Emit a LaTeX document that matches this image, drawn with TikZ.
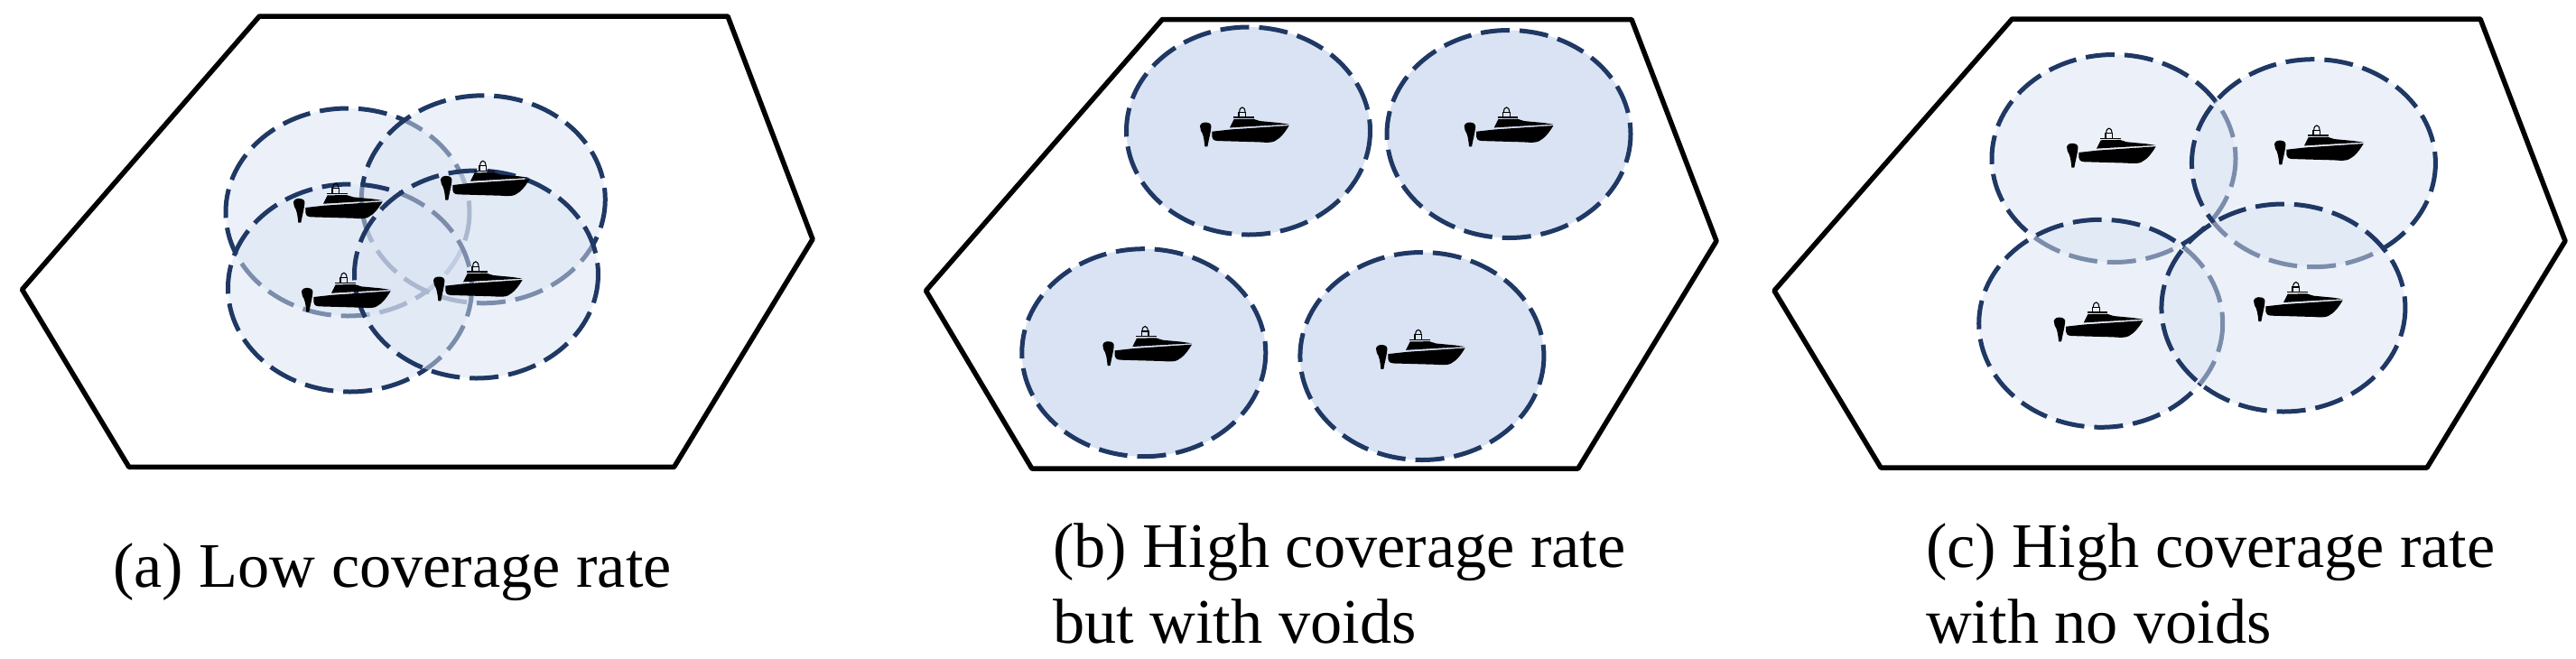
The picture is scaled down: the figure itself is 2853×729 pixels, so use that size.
\documentclass[tikz,border=0pt]{standalone}
\usepackage{fontspec}
\setmainfont{Liberation Serif}
\definecolor{cellfill}{HTML}{D9E3F3}
\definecolor{cellline}{HTML}{1F3864}
\tikzset{
  hexcell/.style={draw=black,line width=5.5pt,line join=round},
  zone/.style={draw=cellline,line width=5pt,dash pattern=on 32pt off 11pt,fill=cellfill,fill opacity=0.5,draw opacity=1},
  solidzone/.style={zone,fill opacity=1},
  caption/.style={anchor=base west,inner sep=0pt,font=\fontsize{70.3}{85}\selectfont},
  pics/boat/.style={code={
    \begin{scope}[x=0.3333pt,y=-0.3333pt,shift={(-147,-218)}]
      \fill[black] (147,150) .. controls (148,140) and (160,136) .. (170,138) .. controls (180,139) and (186,145) .. (184,155) .. controls (182,175) and (176,195) .. (172,218) -- (163,218) .. controls (161,195) and (158,175) .. (150,165) .. controls (148,160) and (147,155) .. (147,150) -- cycle;
      \fill[black] (187,168) -- (250,161) -- (443,148) .. controls (430,170) and (415,190) .. (395,200) .. controls (385,205) and (370,205) .. (345,203) -- (205,199) .. controls (192,198) and (187,192) .. (187,185) -- cycle;
      \fill[black] (246,155) -- (260,127) -- (324,126) -- (346,133) -- (410,139) -- (443,144) -- (350,149) -- cycle;
      \draw[black,line width=1.4pt] (258,121) -- (326,121);
      \draw[black,line width=1.1pt] (276,120) -- (276,104) -- (299,104) -- (299,120);
      \draw[black,line width=1.1pt] (278,104) .. controls (278,82) and (297,82) .. (297,104);
    \end{scope}
  }}
}
\begin{document}
\begin{tikzpicture}[x=1pt,y=-1pt]
\useasboundingbox (0,0) rectangle (2853,729);
% (a)
\draw[hexcell] (287.3,18) -- (806,18) -- (900,265) -- (746.6,517.3) -- (142.8,517.3) -- (24.5,320.7) -- cycle;
\draw[zone] (385,235) ellipse [x radius=135,y radius=115];
\draw[zone] (535.3,220.8) ellipse [x radius=135,y radius=115];
\draw[zone] (387.5,319) ellipse [x radius=135,y radius=115];
\draw[zone] (527.5,304) ellipse [x radius=135,y radius=115];
\pic at (325,246.7) {boat};
\pic at (488,221.7) {boat};
\pic at (334,345.7) {boat};
\pic at (480,333.3) {boat};
\node[caption] (capa) at (125,650) {(a) Low coverage rate};
% (b)
\draw[hexcell] (1287.3,21.5) -- (1807,21.5) -- (1901,267) -- (1747.8,519) -- (1142.8,519) -- (1025.5,322) -- cycle;
\draw[solidzone] (1382.5,145) ellipse [x radius=135,y radius=115];
\draw[solidzone] (1671,148.5) ellipse [x radius=135,y radius=115];
\draw[solidzone] (1266.8,390.7) ellipse [x radius=135,y radius=115];
\draw[solidzone] (1574.9,394.5) ellipse [x radius=135,y radius=115];
\pic at (1329,162.4) {boat};
\pic at (1621.7,162.4) {boat};
\pic at (1221.3,405) {boat};
\pic at (1524,408.8) {boat};
\node[caption] (capb) at (1166,628) {(b) High coverage rate};
\node[caption] (capbb) at (1166,712.7) {but with voids};
% (c)
\draw[hexcell] (2228.5,21) -- (2747,21) -- (2841,267) -- (2688,518) -- (2083,518) -- (1965,322) -- cycle;
\draw[zone] (2341,175.5) ellipse [x radius=135,y radius=115];
\draw[zone] (2562.4,180.7) ellipse [x radius=135,y radius=115];
\draw[zone] (2326.7,358.3) ellipse [x radius=135,y radius=115];
\draw[zone] (2528.9,341) ellipse [x radius=135,y radius=115];
\pic at (2289,185.6) {boat};
\pic at (2519,182.4) {boat};
\pic at (2274.7,378.4) {boat};
\pic at (2496,356) {boat};
\node[caption] (capc) at (2133,628) {(c) High coverage rate};
\node[caption] (capcc) at (2133,712.7) {with no voids};
\end{tikzpicture}
\end{document}
